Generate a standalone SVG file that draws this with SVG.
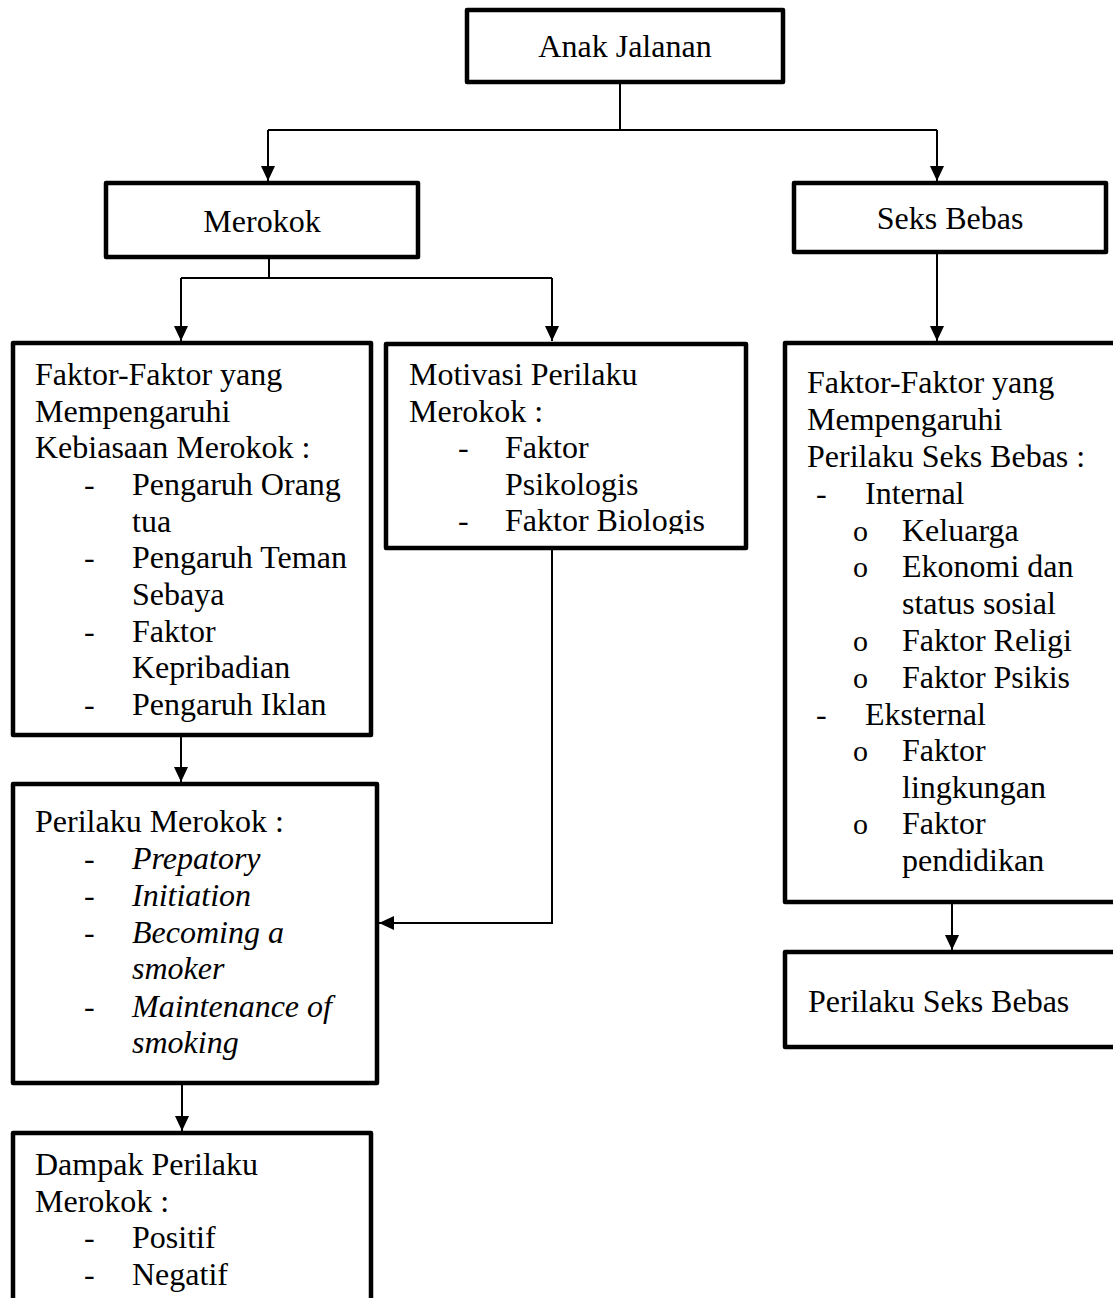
<svg xmlns="http://www.w3.org/2000/svg" width="1113" height="1298" viewBox="0 0 1113 1298">
<style>
.box{fill:#fff;stroke:#000;stroke-width:4.5;stroke-linejoin:round}
.t{font-family:"Liberation Serif","Times New Roman",serif;font-size:32px;fill:#000}
.c{text-anchor:middle}
.i{font-style:italic}
.o{font-family:"Liberation Serif","Times New Roman",serif;font-size:30px;fill:#000}
.ln{fill:none;stroke:#000;stroke-width:2}
.ar{marker-end:url(#arr)}
</style>
<defs>
<marker id="arr" markerUnits="userSpaceOnUse" markerWidth="16" markerHeight="16" refX="15" refY="7" orient="auto">
<path d="M0,0 L15,7 L0,14 z" fill="#000"/>
</marker>
<clipPath id="clipMot"><rect x="386" y="344" width="360" height="190"/></clipPath>
</defs>
<rect width="1113" height="1298" fill="#fff"/>
<g id="connectors">
<path class="ln" d="M620,83 V130"/>
<path class="ln" d="M268,130 H937"/>
<path class="ln ar" d="M268,130 V181"/>
<path class="ln ar" d="M937,130 V181"/>
<path class="ln" d="M269,257 V278"/>
<path class="ln" d="M181,278 H552"/>
<path class="ln ar" d="M181,278 V341"/>
<path class="ln ar" d="M552,278 V341"/>
<path class="ln ar" d="M937,252 V341"/>
<path class="ln ar" d="M181,735 V782"/>
<path class="ln ar" d="M552,548 V923 H379"/>
<path class="ln ar" d="M182,1083 V1131"/>
<path class="ln ar" d="M952,902 V950"/>
</g>
<g id="anak-jalanan">
<rect class="box" x="467" y="10" width="316" height="72"/>
<text class="t c" x="625" y="57">Anak Jalanan</text>
</g>
<g id="merokok">
<rect class="box" x="106" y="183" width="312" height="74"/>
<text class="t c" x="262" y="232">Merokok</text>
</g>
<g id="seks-bebas">
<rect class="box" x="794" y="183" width="312" height="69"/>
<text class="t c" x="950" y="229">Seks Bebas</text>
</g>
<g id="faktor-merokok">
<rect class="box" x="13" y="343" width="358" height="392"/>
<text class="t" x="35" y="385">Faktor-Faktor yang</text>
<text class="t" x="35" y="422">Mempengaruhi</text>
<text class="t" x="35" y="458">Kebiasaan Merokok :</text>
<text class="t" x="84" y="495">-</text>
<text class="t" x="132" y="495">Pengaruh Orang</text>
<text class="t" x="132" y="532">tua</text>
<text class="t" x="84" y="568">-</text>
<text class="t" x="132" y="568">Pengaruh Teman</text>
<text class="t" x="132" y="605">Sebaya</text>
<text class="t" x="84" y="642">-</text>
<text class="t" x="132" y="642">Faktor</text>
<text class="t" x="132" y="678">Kepribadian</text>
<text class="t" x="84" y="715">-</text>
<text class="t" x="132" y="715">Pengaruh Iklan</text>
</g>
<g id="motivasi">
<rect class="box" x="386" y="344" width="360" height="204"/>
<g clip-path="url(#clipMot)">
<text class="t" x="409" y="385">Motivasi Perilaku</text>
<text class="t" x="409" y="422">Merokok :</text>
<text class="t" x="458" y="458">-</text>
<text class="t" x="505" y="458">Faktor</text>
<text class="t" x="505" y="495">Psikologis</text>
<text class="t" x="458" y="531">-</text>
<text class="t" x="505" y="531">Faktor Biologis</text>
</g>
</g>
<g id="perilaku-merokok">
<rect class="box" x="13" y="784" width="364" height="299"/>
<text class="t" x="35" y="832">Perilaku Merokok :</text>
<text class="t" x="84" y="869">-</text>
<text class="t i" x="132" y="869">Prepatory</text>
<text class="t" x="84" y="906">-</text>
<text class="t i" x="132" y="906">Initiation</text>
<text class="t" x="84" y="943">-</text>
<text class="t i" x="132" y="943">Becoming a</text>
<text class="t i" x="132" y="979">smoker</text>
<text class="t" x="84" y="1017">-</text>
<text class="t i" x="132" y="1017">Maintenance of</text>
<text class="t i" x="132" y="1053">smoking</text>
</g>
<g id="dampak">
<rect class="box" x="13" y="1133" width="358" height="200"/>
<text class="t" x="35" y="1175">Dampak Perilaku</text>
<text class="t" x="35" y="1212">Merokok :</text>
<text class="t" x="84" y="1248">-</text>
<text class="t" x="132" y="1248">Positif</text>
<text class="t" x="84" y="1285">-</text>
<text class="t" x="132" y="1285">Negatif</text>
</g>
<g id="faktor-seks">
<rect class="box" x="785" y="343" width="345" height="559"/>
<text class="t" x="807" y="393">Faktor-Faktor yang</text>
<text class="t" x="807" y="430">Mempengaruhi</text>
<text class="t" x="807" y="467">Perilaku Seks Bebas :</text>
<text class="t" x="816" y="504">-</text>
<text class="t" x="865" y="504">Internal</text>
<text class="o" x="853" y="541">o</text>
<text class="t" x="902" y="541">Keluarga</text>
<text class="o" x="853" y="577">o</text>
<text class="t" x="902" y="577">Ekonomi dan</text>
<text class="t" x="902" y="614">status sosial</text>
<text class="o" x="853" y="651">o</text>
<text class="t" x="902" y="651">Faktor Religi</text>
<text class="o" x="853" y="688">o</text>
<text class="t" x="902" y="688">Faktor Psikis</text>
<text class="t" x="816" y="725">-</text>
<text class="t" x="865" y="725">Eksternal</text>
<text class="o" x="853" y="761">o</text>
<text class="t" x="902" y="761">Faktor</text>
<text class="t" x="902" y="798">lingkungan</text>
<text class="o" x="853" y="834">o</text>
<text class="t" x="902" y="834">Faktor</text>
<text class="t" x="902" y="871">pendidikan</text>
</g>
<g id="perilaku-seks-bebas">
<rect class="box" x="785" y="952" width="345" height="95"/>
<text class="t" x="808" y="1012">Perilaku Seks Bebas</text>
</g>
</svg>
